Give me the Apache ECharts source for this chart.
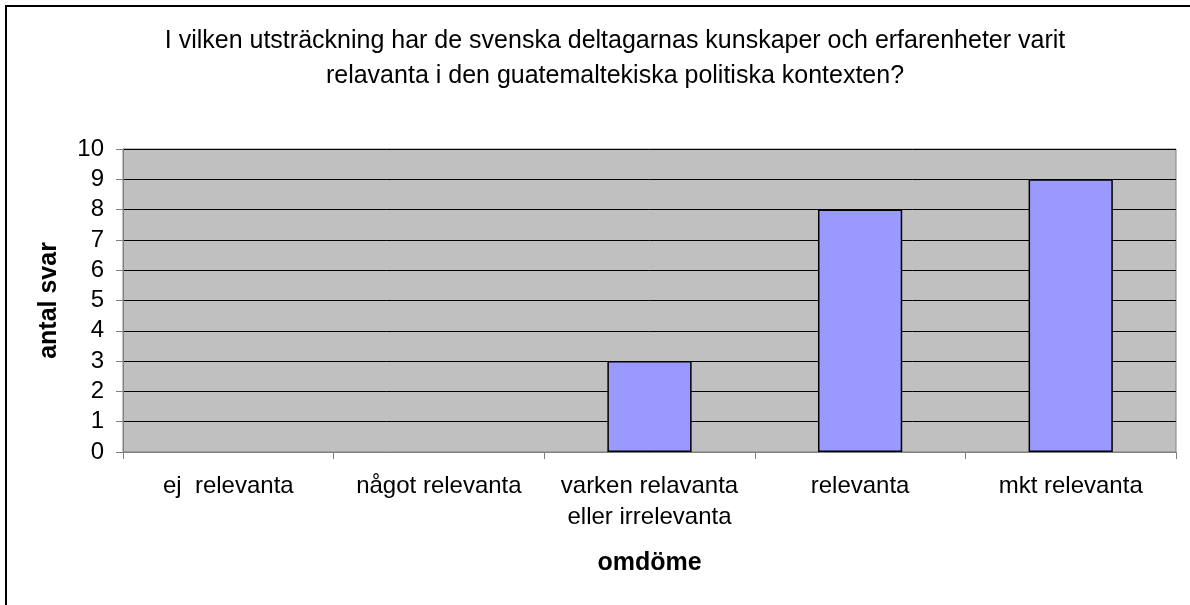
<!DOCTYPE html>
<html>
<head>
<meta charset="utf-8">
<script src="https://cdn.jsdelivr.net/npm/echarts@6/dist/echarts.min.js"></script>
<style>
  html, body { margin: 0; padding: 0; background: #fff; }
  #chart { width: 1190px; height: 605px; }
</style>
</head>
<body>
<div id="chart"></div>
<script>
// svar per omdöme
var categories = ['ej  relevanta', 'något relevanta', 'varken relavanta\neller irrelevanta', 'relevanta', 'mkt relevanta'];
var antalSvar = [0, 0, 3, 8, 9];
var yTicks = [0, 10, 1]; // min, max, steg

var chart = echarts.init(document.getElementById('chart'));
var font = 'Liberation Sans, Arial, sans-serif';

// nollstaplar ska inte rita någon kantlinje
var barData = antalSvar.map(function (v) {
  return v === 0 ? { value: v, itemStyle: { borderWidth: 0 } } : v;
});

var option = {
  animation: false,
  backgroundColor: '#ffffff',
  graphic: [{
    type: 'rect',
    shape: { x: 6, y: 6, width: 1200, height: 620 },
    style: { fill: 'none', stroke: '#000', lineWidth: 2 },
    silent: true
  }],
  title: {
    text: 'I vilken utsträckning har de svenska deltagarnas kunskaper och erfarenheter varit\nrelavanta i den guatemaltekiska politiska kontexten?',
    left: 610,
    top: 19,
    textAlign: 'center',
    textStyle: { fontFamily: font, fontSize: 25, fontWeight: 'normal', color: '#000', lineHeight: 35 }
  },
  grid: {
    left: 123, right: 14, top: 149, bottom: 153,
    show: true,
    backgroundColor: '#C0C0C0',
    borderColor: '#808080',
    borderWidth: 1
  },
  xAxis: {
    type: 'category',
    data: categories,
    name: 'omdöme',
    nameLocation: 'middle',
    nameGap: 99,
    nameTextStyle: { fontFamily: font, fontSize: 25, fontWeight: 'bold', color: '#000' },
    axisLine: { lineStyle: { color: '#808080' } },
    axisTick: { show: true, length: 7, lineStyle: { color: '#808080' } },
    axisLabel: { fontFamily: font, fontSize: 24, color: '#000', margin: 19, lineHeight: 31, interval: 0 }
  },
  yAxis: {
    type: 'value',
    min: yTicks[0],
    max: yTicks[1],
    interval: yTicks[2],
    name: 'antal svar',
    nameLocation: 'middle',
    nameGap: 61,
    nameTextStyle: { fontFamily: font, fontSize: 25, fontWeight: 'bold', color: '#000' },
    axisLine: { show: true, lineStyle: { color: '#808080' } },
    axisTick: { show: true, length: 7, lineStyle: { color: '#808080' } },
    axisLabel: { fontFamily: font, fontSize: 24, color: '#000', margin: 19 },
    splitLine: { show: true, lineStyle: { color: '#000', width: 1 } }
  },
  series: [{
    type: 'bar',
    data: barData,
    barWidth: '40%',
    itemStyle: { color: '#9999FF', borderColor: '#000', borderWidth: 1.5 }
  }]
};
chart.setOption(option);
</script>
</body>
</html>
